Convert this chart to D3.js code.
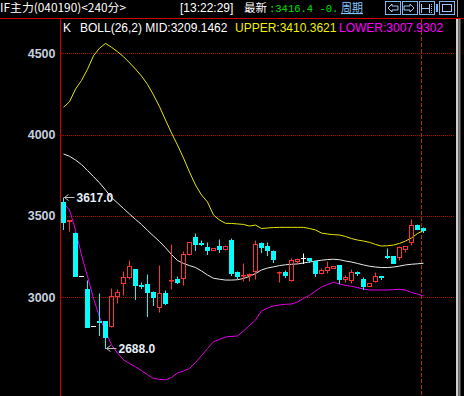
<!DOCTYPE html>
<html>
<head>
<meta charset="utf-8">
<script src="https://cdn.jsdelivr.net/npm/d3@7/dist/d3.min.js"></script>
<style>
html, body { margin: 0; padding: 0; background: #000; overflow: hidden; }
svg { display: block; }
</style>
</head>
<body>
<svg id="svg"></svg>
<script>
// candles, 240 min bars
var opens  = [3586,3466,3397,3132,3051,2824,2852,2852,2825,3006,3086,3127,3174,3078,3080,3031,2942,3025,3104,3112,
              3120,3264,3369,3333,3307,3293,3317,3299,3352,3156,3135,3135,3164,3336,3313,3286,3154,3158,3106,3223,
              3240,3242,3223,3148,3168,3182,3199,3115,3106,3158,3112,3071,3102,3131,3252,3254,3246,3297,3342,3444,3424];
var highs  = [3617,3476,3400,3134,3106,2826,3025,2855,3055,3051,3164,3229,3176,3092,3141,3039,3199,3045,3326,3131,
              3285,3340,3393,3352,3338,3306,3358,3320,3364,3164,3209,3150,3352,3338,3342,3291,3164,3170,3240,3240,
              3274,3244,3225,3180,3223,3194,3201,3137,3174,3160,3123,3088,3158,3133,3301,3256,3317,3317,3481,3452,3434];
var lows   = [3422,3409,3130,3130,2819,2822,2768,2688,2819,2967,3014,3111,2988,3055,2885,2953,2911,2957,3049,3086,
              3076,3262,3291,3321,3266,3292,3280,3293,3137,3117,3100,3100,3111,3280,3260,3219,3096,3127,3102,3203,
              3209,3217,3131,3146,3148,3180,3086,3096,3090,3137,3049,3069,3096,3111,3240,3211,3229,3280,3321,3418,3403];
var closes = [3465,3474,3133,3132,2819,2824,2846,2755,3006,3031,3127,3191,3077,3074,3031,3000,3025,2967,3108,3092,
              3266,3338,3328,3330,3291,3301,3297,3315,3151,3131,3139,3143,3328,3307,3291,3235,3158,3137,3229,3234,
              3240,3229,3148,3168,3188,3192,3113,3123,3158,3152,3071,3086,3131,3122,3248,3213,3311,3315,3444,3420,3416.4];

// BOLL(26,2)
var upper = [4168,4202,4280,4333,4402,4485,4531,4561,4537,4510,4479,4442,4403,4360,4309,4244,4172,4090,4010,3936,
             3856,3770,3690,3629,3586,3506,3475,3455,3454,3451,3448,3438,3444,3423,3426,3429,3430,3430,3430,3430,
             3430,3423,3414,3395,3389,3385,3383,3374,3361,3352,3346,3338,3325,3315,3317,3321,3331,3346,3365,3392,3410.3621];
var mid   = [3881,3867,3844,3816,3779,3742,3704,3660,3613,3580,3546,3512,3479,3448,3411,3377,3343,3305,3263,3226,
             3208,3195,3183,3162,3137,3117,3111,3106,3106,3108,3116,3129,3146,3168,3180,3187,3195,3200,3203,3205,
             3211,3217,3223,3228,3232,3234,3231,3223,3217,3208,3199,3191,3186,3183,3183,3186,3192,3199,3203,3206,3209.1462];
var lower = [3578,3537,3414,3260,3128,2993,2879,2790,2707,2658,2615,2593,2572,2549,2524,2501,2496,2492,2507,2535,
             2547,2562,2599,2642,2685,2727,2741,2756,2760,2762,2793,2827,2860,2916,2934,2947,2953,2957,2959,2971,
             2993,3012,3039,3063,3079,3092,3082,3073,3068,3060,3051,3045,3045,3045,3045,3047,3049,3045,3030,3020,3007.9302];

var yTicks = [3000, 3500, 4000, 4500];
var maxLabel = "3617.0", minLabel = "2688.0";

var width = 464, height = 396;
var svg = d3.select("#svg").attr("width", width).attr("height", height);
svg.append("rect").attr("width", width).attr("height", height).attr("fill", "#000");

var n = closes.length;
var x = d3.scaleLinear().domain([0, n - 1]).range([63.5, 423.5]);
var y = d3.scaleLinear().domain([3000, 4500]).range([297.3, 53.3]);
function py(v) { return Math.round(y(v)) + 0.5; }

var RED = "#ff3232", CYAN = "#00ffff";

//////////////////////////////////////////////////////////////////////////////
// frame and grid

svg.append("line").attr("x1", 0).attr("x2", width).attr("y1", 18.5).attr("y2", 18.5)
    .attr("stroke", "#d00000");
svg.append("line").attr("x1", 60.5).attr("x2", 60.5).attr("y1", 18).attr("y2", height)
    .attr("stroke", "#d00000");

svg.selectAll("line.grid").data(yTicks).enter().append("line")
    .attr("class", "grid")
    .attr("x1", 61).attr("x2", 455)
    .attr("y1", function(d) { return py(d); })
    .attr("y2", function(d) { return py(d); })
    .attr("stroke", "#c00000")
    .attr("stroke-dasharray", "1,1");

svg.selectAll("text.ytick").data(yTicks).enter().append("text")
    .attr("class", "ytick")
    .attr("x", 55.5)
    .attr("y", function(d) { return y(d) + 4.5; })
    .attr("text-anchor", "end")
    .attr("font-family", "Liberation Sans, Arial, sans-serif")
    .attr("font-weight", "bold")
    .attr("font-size", 12.5)
    .attr("fill", "#c4cfdf")
    .text(function(d) { return d; });

// cursor line on the last bar
svg.append("line").attr("x1", 421.5).attr("x2", 421.5).attr("y1", 19).attr("y2", height)
    .attr("stroke", "#c02020").attr("stroke-dasharray", "4,2");

// scroll bar on the right
svg.append("rect").attr("x", 456).attr("y", 19).attr("width", 2.5).attr("height", height - 19).attr("fill", "#d0d0d0");
svg.append("rect").attr("x", 459).attr("y", 19).attr("width", 1.5).attr("height", height - 19).attr("fill", "#808080");

//////////////////////////////////////////////////////////////////////////////
// BOLL lines

function bandLine(vals, color) {
    var line = d3.line()
        .x(function(d, i) { return x(i); })
        .y(function(d) { return y(d); });
    svg.append("path").datum(vals)
        .attr("d", line)
        .attr("fill", "none")
        .attr("stroke", color)
        .attr("stroke-width", 1);
}
bandLine(mid, "#e8e8e8");
bandLine(upper, "#e6e600");
bandLine(lower, "#e600e6");

//////////////////////////////////////////////////////////////////////////////
// candles

var idx = d3.range(n);
var gs = svg.selectAll("g.candle").data(idx).enter().append("g").attr("class", "candle");

gs.each(function(i) {
    var g = d3.select(this);
    var o = opens[i], c = closes[i], h = highs[i], l = lows[i];
    var cx = x(i);
    var left = Math.round(cx - 2.5);
    if (Math.abs(o - c) < 0.01) {
        g.append("line").attr("x1", cx).attr("x2", cx).attr("y1", py(h)).attr("y2", py(l) + 0.5)
            .attr("stroke", "#ffffff");
        g.append("line").attr("x1", left).attr("x2", left + 5).attr("y1", py(o)).attr("y2", py(o))
            .attr("stroke", "#ffffff");
    } else if (c > o) {
        var top = py(c), bot = py(o);
        g.append("line").attr("x1", cx).attr("x2", cx).attr("y1", py(h)).attr("y2", top)
            .attr("stroke", RED);
        g.append("line").attr("x1", cx).attr("x2", cx).attr("y1", bot).attr("y2", py(l))
            .attr("stroke", RED);
        g.append("rect").attr("x", left + 0.5).attr("y", top).attr("width", 4)
            .attr("height", Math.max(bot - top, 0.5))
            .attr("fill", "none").attr("stroke", RED);
    } else {
        var t2 = Math.round(y(o)), b2 = Math.round(y(c));
        g.append("line").attr("x1", cx).attr("x2", cx).attr("y1", py(h)).attr("y2", py(l) + 0.5)
            .attr("stroke", CYAN);
        g.append("rect").attr("x", left).attr("y", t2).attr("width", 5)
            .attr("height", Math.max(b2 - t2, 1) + 1)
            .attr("fill", CYAN);
    }
});

//////////////////////////////////////////////////////////////////////////////
// high / low marks

function mark(i, v, label) {
    var cx = x(i), yy = py(v);
    svg.append("line").attr("x1", cx + 1).attr("x2", cx + 11).attr("y1", yy).attr("y2", yy)
        .attr("stroke", "#c0c0c0");
    svg.append("path").attr("d", "M" + (cx + 1) + "," + yy + "l4,-3 M" + (cx + 1) + "," + yy + "l4,3")
        .attr("stroke", "#c0c0c0").attr("fill", "none");
    svg.append("text").attr("x", cx + 13).attr("y", yy + 4.5)
        .attr("font-family", "Liberation Sans, Arial, sans-serif")
        .attr("font-weight", "bold").attr("font-size", 12)
        .attr("fill", "#e8eef8").text(label);
}
var hiIdx = d3.maxIndex(highs), loIdx = d3.minIndex(lows);
mark(hiIdx, highs[hiIdx], maxLabel);
mark(loIdx, lows[loIdx], minLabel);

//////////////////////////////////////////////////////////////////////////////
// header

var hdr = svg.append("g").attr("font-family", "Liberation Sans, Noto Sans CJK SC, sans-serif").attr("font-size", 12);

hdr.append("text").attr("x", 0).attr("y", 12).attr("fill", "#ffffff")
    .attr("font-family", "Noto Sans CJK SC, sans-serif").attr("font-size", 11.5)
    .attr("textLength", 126).attr("lengthAdjust", "spacingAndGlyphs")
    .text("IF主力(040190)<240分>");
hdr.append("text").attr("x", 180).attr("y", 12).attr("fill", "#ffffff").text("[13:22:29]");
hdr.append("text").attr("x", 244).attr("y", 12).attr("fill", "#ffffff")
    .attr("font-family", "Noto Sans CJK SC, sans-serif").attr("font-size", 11.5).text("最新");

hdr.append("text").attr("x", 269).attr("y", 12).attr("fill", "#00e000")
    .attr("font-family", "Liberation Mono, monospace").attr("font-size", 10.5)
    .text(":" + closes[n - 1].toFixed(1) + " -0.");
hdr.append("text").attr("x", 341).attr("y", 12).attr("fill", "#80c8ff")
    .attr("font-family", "Noto Sans CJK SC, sans-serif").attr("font-size", 11)
    .attr("text-decoration", "underline").text("周期");

// tool buttons
var btnX = [385, 402, 419, 439];
svg.selectAll("rect.btn").data(btnX).enter().append("rect")
    .attr("class", "btn")
    .attr("x", function(d) { return d + 0.5; }).attr("y", 1.5)
    .attr("width", 15).attr("height", 13)
    .attr("fill", "#000").attr("stroke", "#7fb6f0");
var bc = "#9cc8ff";
svg.append("path").attr("d", "M388,8 l4,-4 v2 h6 v4 h-6 v2 z").attr("fill", "none").attr("stroke", bc);
svg.append("path").attr("d", "M414,8 l-4,-4 v2 h-6 v4 h6 v2 z").attr("fill", "none").attr("stroke", bc);
svg.append("path").attr("d", "M421.5,4 v9 M421.5,8.5 h8 M429.5,4 v9").attr("fill", "none").attr("stroke", bc);
svg.append("path").attr("d", "M431.5,4 v9").attr("stroke", bc).attr("stroke-dasharray", "1,1");
svg.append("rect").attr("x", 436).attr("y", 4).attr("width", 2).attr("height", 8).attr("fill", "#7fb6f0");
svg.append("rect").attr("x", 442.5).attr("y", 4.5).attr("width", 9).attr("height", 7)
    .attr("fill", "none").attr("stroke", bc);
svg.append("line").attr("x1", 457.5).attr("x2", 457.5).attr("y1", 0).attr("y2", 17).attr("stroke", "#a0a0a0");

// indicator title
var t2 = svg.append("g").attr("font-family", "Liberation Sans, Arial, sans-serif").attr("font-size", 12);
t2.append("text").attr("x", 63).attr("y", 32).attr("fill", "#ffffff").text("K");
t2.append("text").attr("x", 80).attr("y", 32).attr("fill", "#ffffff")
    .text("BOLL(26,2) MID:" + mid[n - 1].toFixed(4));
t2.append("text").attr("x", 235).attr("y", 32).attr("fill", "#f0f000")
    .text("UPPER:" + upper[n - 1].toFixed(4));
t2.append("text").attr("x", 339).attr("y", 32).attr("fill", "#ff00ff")
    .text("LOWER:" + lower[n - 1].toFixed(4));
</script>
</body>
</html>
